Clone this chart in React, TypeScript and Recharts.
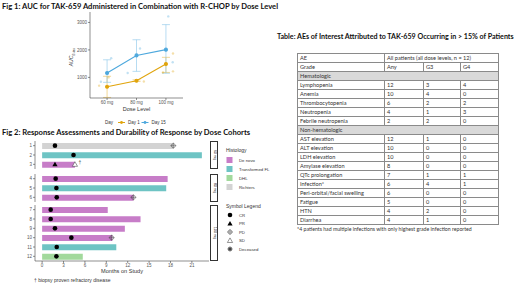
import {
  Bar,
  Cell,
  ComposedChart,
  ErrorBar,
  Line,
  Scatter,
  XAxis,
  YAxis,
} from "recharts";

// ---- Fig 1: AUC by dose level ----
const DOSE_LEVELS = ["60 mg", "80 mg", "100 mg"];
const DAY1_MEAN = [660, 880, 1490];
const DAY1_LOW = [270, 850, 1180];
const DAY1_HIGH = [1040, 910, 1730];
const DAY15_MEAN = [1160, 1800, 2010];
const DAY15_LOW = [820, 1220, 1150];
const DAY15_HIGH = [1640, 2370, 2920];
// individual patients (jittered around each dose)
const DAY1_PTS_X = [0.73, 1.05, 2.25, 2.9, 3.24, 3.24];
const DAY1_PTS_Y = [700, 1000, 850, 1180, 1870, 1220];
const DAY15_PTS_X = [1.14, 0.79, 1.7, 2.12, 3.08, 3.23];
const DAY15_PTS_Y = [1700, 840, 1160, 2050, 3220, 1550];

// ---- Fig 2: swimmer plot ----
const PATIENTS = ["1", "2", "3", "4", "5", "6", "7", "8", "9", "10", "11", "12"];
const COHORT = ["60 mg", "60 mg", "60 mg", "80 mg", "80 mg", "80 mg", "100 mg", "100 mg", "100 mg", "100 mg", "100 mg", "100 mg"];
const HISTOLOGY = ["Richters", "Transformed FL", "De novo", "De novo", "Transformed FL", "De novo", "De novo", "De novo", "De novo", "De novo", "Transformed FL", "DHL"];
const MONTHS = [18.4, 22.4, 4.6, 17.6, 17.4, 12.8, 9.2, 13.8, 11.6, 9.85, 10.4, 5.7];
const CR_AT = [1.8, 4.4, null, 1.9, 2.0, 2.05, 1.2, 1.2, 1.8, 4.1, 2.05, 2.0];
const PR_AT = [null, null, 1.8, null, null, null, null, null, null, null, null, null];
const SD_AT = [null, null, 4.6, null, null, null, null, null, null, null, null, null];
const PD_AT = [18.4, null, null, null, null, 12.8, null, null, null, 9.75, null, null];
const BIOPSY_AT = [null, null, 4.6, null, null, null, null, null, null, null, null, null];
const MONTH_TICKS = [0, 3, 6, 9, 12, 15, 18, 21];
const HIST_NAMES = ["De novo", "Transformed FL", "DHL", "Richters"];
const HIST_COLORS: Record<string, string> = {
  "De novo": "#C77DC8",
  "Transformed FL": "#6EC4C4",
  DHL: "#A2D99C",
  Richters: "#D3D3D3",
};

// ---- Table ----
const HEME_AES = ["Lymphopenia", "Anemia", "Thrombocytopenia", "Neutropenia", "Febrile neutropenia"];
const HEME_ANY = [12, 10, 6, 4, 2];
const HEME_G3 = [3, 4, 2, 1, 2];
const HEME_G4 = [4, 0, 2, 3, 0];
const NONHEME_AES = ["AST elevation", "ALT elevation", "LDH elevation", "Amylase elevation", "QTc prolongation", "Infection*", "Peri-orbital/facial swelling", "Fatigue", "HTN", "Diarrhea"];
const NONHEME_ANY = [12, 10, 10, 8, 7, 6, 6, 5, 4, 4];
const NONHEME_G3 = [1, 0, 0, 0, 1, 4, 0, 0, 2, 1];
const NONHEME_G4 = [0, 0, 0, 0, 1, 1, 0, 0, 0, 0];
const COL_W = [87, 39, 37, 38];

const DAY1_COLOR = "#E0A40C";
const DAY15_COLOR = "#4DA8DD";
const AXIS = "#444";
const TICK = { fontSize: 4.5, fill: "#555", fontFamily: "Liberation Sans" };

const fig1Data = DOSE_LEVELS.map((_, i) => ({
  x: i + 1,
  day1: DAY1_MEAN[i],
  day1Err: [DAY1_MEAN[i] - DAY1_LOW[i], DAY1_HIGH[i] - DAY1_MEAN[i]],
  day15: DAY15_MEAN[i],
  day15Err: [DAY15_MEAN[i] - DAY15_LOW[i], DAY15_HIGH[i] - DAY15_MEAN[i]],
}));
const day1Pts = DAY1_PTS_X.map((x, i) => ({ x, y: DAY1_PTS_Y[i] }));
const day15Pts = DAY15_PTS_X.map((x, i) => ({ x, y: DAY15_PTS_Y[i] }));

const rows = PATIENTS.map((id, i) => ({
  id,
  cohort: COHORT[i],
  hist: HISTOLOGY[i],
  months: MONTHS[i],
  cr: CR_AT[i],
  pr: PR_AT[i],
  sd: SD_AT[i],
  pd: PD_AT[i],
  biopsy: BIOPSY_AT[i],
}));

const faintDot = (color: string) => (p: any) => (
  <circle cx={p.cx} cy={p.cy} r={1.2} fill={color} opacity={0.35} />
);

function CrShape(p: any) {
  return <circle cx={p.cx} cy={p.cy} r={2.3} fill="#000" />;
}
function PrShape(p: any) {
  const { cx, cy } = p;
  return <path d={`M${cx},${cy - 2.6}L${cx + 2.6},${cy + 2}L${cx - 2.6},${cy + 2}Z`} fill="#000" />;
}
function SdShape(p: any) {
  const { cx, cy } = p;
  return (
    <path
      d={`M${cx},${cy - 2.6}L${cx + 2.6},${cy + 2}L${cx - 2.6},${cy + 2}Z`}
      fill="#fff"
      stroke="#333"
      strokeWidth={0.5}
    />
  );
}
function PdShape(p: any) {
  const { cx, cy } = p;
  return (
    <g stroke="#444" strokeWidth={0.5} fill="none">
      <circle cx={cx} cy={cy} r={2} />
      <line x1={cx - 3} y1={cy} x2={cx + 3} y2={cy} />
      <line x1={cx} y1={cy - 3} x2={cx} y2={cy + 3} />
    </g>
  );
}
function DaggerShape(p: any) {
  return (
    <text x={p.cx + 3.5} y={p.cy - 0.5} fontSize={5} fill="#333" fontFamily="Liberation Sans">
      †
    </text>
  );
}

const pick = (list: typeof rows, key: "cr" | "pr" | "sd" | "pd" | "biopsy") =>
  list.filter((r) => r[key] != null).map((r) => ({ id: r.id, t: r[key] }));

function CohortPanel({ cohort, top, height, showAxis }: { cohort: string; top: number; height: number; showAxis: boolean }) {
  const data = rows.filter((r) => r.cohort === cohort);
  return (
    <div style={{ position: "absolute", left: 17, top }}>
      <ComposedChart layout="vertical" width={192} height={height} data={data} margin={{ top: 0, right: 0, bottom: 0, left: 0 }}>
        <XAxis
          type="number"
          domain={[-1, 23.4]}
          ticks={MONTH_TICKS}
          interval={0}
          hide={!showAxis}
          height={9}
          tick={TICK}
          tickSize={2}
          tickMargin={1}
          stroke={AXIS}
          strokeWidth={0.6}
          allowDataOverflow
        />
        <YAxis
          type="category"
          dataKey="id"
          allowDuplicatedCategory={false}
          interval={0}
          width={18}
          tick={TICK}
          tickSize={2}
          tickMargin={1}
          stroke={AXIS}
          strokeWidth={0.6}
        />
        <Bar dataKey="months" barSize={6} isAnimationActive={false}>
          {data.map((r) => (
            <Cell key={r.id} fill={HIST_COLORS[r.hist]} />
          ))}
        </Bar>
        <Scatter data={pick(data, "cr")} dataKey="t" shape={CrShape} isAnimationActive={false} />
        <Scatter data={pick(data, "pr")} dataKey="t" shape={PrShape} isAnimationActive={false} />
        <Scatter data={pick(data, "sd")} dataKey="t" shape={SdShape} isAnimationActive={false} />
        <Scatter data={pick(data, "pd")} dataKey="t" shape={PdShape} isAnimationActive={false} />
        <Scatter data={pick(data, "biopsy")} dataKey="t" shape={DaggerShape} isAnimationActive={false} />
      </ComposedChart>
    </div>
  );
}

const title: React.CSSProperties = {
  position: "absolute",
  fontFamily: "Lato",
  fontWeight: 700,
  fontSize: 7.6,
  color: "#111",
  whiteSpace: "nowrap",
  lineHeight: 1,
};
const small: React.CSSProperties = {
  position: "absolute",
  fontFamily: "Liberation Sans",
  fontSize: 5,
  color: "#333",
  whiteSpace: "nowrap",
  lineHeight: 1,
};

function TableRow({ cells, spans, shaded }: { cells: (string | number)[]; spans?: number[]; shaded?: boolean }) {
  let col = 0;
  return (
    <div style={{ display: "flex", height: 9, background: shaded ? "#d9d9d9" : "transparent" }}>
      {cells.map((c, i) => {
        const span = spans ? spans[i] : 1;
        const w = COL_W.slice(col, col + span).reduce((a, b) => a + b, 0);
        col += span;
        return (
          <div
            key={i}
            style={{
              width: w,
              height: 9,
              boxSizing: "border-box",
              borderRight: "0.7px solid #8a8a8a",
              borderBottom: "0.7px solid #8a8a8a",
              paddingLeft: 2,
              lineHeight: "8.6px",
              whiteSpace: "nowrap",
              overflow: "hidden",
            }}
          >
            {c}
          </div>
        );
      })}
    </div>
  );
}

function AeTable() {
  return (
    <div
      style={{
        position: "absolute",
        left: 297,
        top: 53,
        width: 201,
        borderTop: "0.7px solid #8a8a8a",
        borderLeft: "0.7px solid #8a8a8a",
        fontFamily: "Lato",
        fontSize: 5.6,
        color: "#333",
      }}
    >
      <TableRow cells={["AE", "All patients (all dose levels, n = 12)"]} spans={[1, 3]} />
      <TableRow cells={["Grade", "Any", "G3", "G4"]} />
      <TableRow cells={["Hematologic"]} spans={[4]} shaded />
      {HEME_AES.map((n, i) => (
        <TableRow key={n} cells={[n, HEME_ANY[i], HEME_G3[i], HEME_G4[i]]} />
      ))}
      <TableRow cells={["Non-hematologic"]} spans={[4]} shaded />
      {NONHEME_AES.map((n, i) => (
        <TableRow key={n} cells={[n, NONHEME_ANY[i], NONHEME_G3[i], NONHEME_G4[i]]} />
      ))}
    </div>
  );
}

export default function App() {
  return (
    <div style={{ position: "absolute", left: 0, top: 0, width: 520, height: 288, background: "#fff", overflow: "hidden" }}>
      {/* Fig 1 */}
      <div style={{ ...title, left: 2, top: 3 }}>
        Fig 1: AUC for TAK-659 Administered in Combination with R-CHOP by Dose Level
      </div>
      <div style={{ position: "absolute", left: 58, top: 8 }}>
        <ComposedChart width={132} height={110} data={fig1Data} margin={{ top: 4, right: 7, bottom: 6, left: 0 }}>
          <XAxis
            type="number"
            dataKey="x"
            domain={[0.42, 3.58]}
            ticks={[1, 2, 3]}
            interval={0}
            tickFormatter={(v) => DOSE_LEVELS[v - 1]}
            height={14}
            tick={TICK}
            tickSize={2}
            tickMargin={1}
            stroke={AXIS}
            strokeWidth={0.6}
          />
          <YAxis
            type="number"
            domain={[250, 3380]}
            ticks={[1000, 2000, 3000]}
            interval={0}
            width={32}
            tick={TICK}
            tickSize={2}
            tickMargin={1}
            stroke={AXIS}
            strokeWidth={0.6}
          />
          <Scatter data={day1Pts} dataKey="y" shape={faintDot(DAY1_COLOR)} isAnimationActive={false} />
          <Scatter data={day15Pts} dataKey="y" shape={faintDot(DAY15_COLOR)} isAnimationActive={false} />
          <Line dataKey="day1" stroke={DAY1_COLOR} strokeWidth={1.1} dot={{ r: 1.5, fill: DAY1_COLOR, stroke: DAY1_COLOR }} isAnimationActive={false}>
            <ErrorBar dataKey="day1Err" direction="y" width={4} stroke="#EDBE4E" strokeWidth={0.6} />
          </Line>
          <Line dataKey="day15" stroke={DAY15_COLOR} strokeWidth={1.1} dot={{ r: 1.5, fill: DAY15_COLOR, stroke: DAY15_COLOR }} isAnimationActive={false}>
            <ErrorBar dataKey="day15Err" direction="y" width={4} stroke="#86C4EA" strokeWidth={0.6} />
          </Line>
        </ComposedChart>
      </div>
      <div style={{ ...small, left: 73, top: 57, transform: "translate(-50%,-50%) rotate(-90deg)", fontStyle: "italic" }}>
        AUC<sub style={{ fontSize: 3.5 }}>0-tau</sub>
      </div>
      <div style={{ ...small, left: 136.5, top: 110, transform: "translate(-50%,-50%)", fontSize: 5.5 }}>Dose Level</div>
      <svg style={{ position: "absolute", left: 100, top: 118 }} width={80} height={9}>
        <text x={5} y={6.3} fontSize={4.5} fill="#333" fontFamily="Liberation Sans">Day</text>
        <line x1={18} y1={4.5} x2={25} y2={4.5} stroke={DAY1_COLOR} strokeWidth={1} />
        <circle cx={21.5} cy={4.5} r={1.4} fill={DAY1_COLOR} />
        <text x={28} y={6.3} fontSize={4.5} fill="#333" fontFamily="Liberation Sans">Day 1</text>
        <line x1={41.5} y1={4.5} x2={48.5} y2={4.5} stroke={DAY15_COLOR} strokeWidth={1} />
        <circle cx={45} cy={4.5} r={1.4} fill={DAY15_COLOR} />
        <text x={51.5} y={6.3} fontSize={4.5} fill="#333" fontFamily="Liberation Sans">Day 15</text>
      </svg>

      {/* Fig 2 */}
      <div style={{ ...title, left: 2, top: 129 }}>
        Fig 2: Response Assessments and Durability of Response by Dose Cohorts
      </div>
      <CohortPanel cohort="60 mg" top={141} height={28} showAxis={false} />
      <CohortPanel cohort="80 mg" top={174} height={28} showAxis={false} />
      <CohortPanel cohort="100 mg" top={205} height={65} showAxis />
      {[
        { label: "60 mg", top: 141, h: 28 },
        { label: "80 mg", top: 174, h: 28 },
        { label: "100 mg", top: 205, h: 56 },
      ].map((s) => (
        <div
          key={s.label}
          style={{
            position: "absolute",
            left: 210,
            top: s.top,
            width: 7.5,
            height: s.h,
            boxSizing: "border-box",
            border: "0.8px solid #333",
          }}
        >
          <div style={{ ...small, fontSize: 3.8, left: "50%", top: "50%", transform: "translate(-50%,-50%) rotate(90deg)" }}>
            {s.label}
          </div>
        </div>
      ))}
      <div style={{ ...small, left: 122, top: 272, transform: "translate(-50%,-50%)", fontSize: 5.6 }}>Months on Study</div>
      <div style={{ ...small, left: 34, top: 278, fontSize: 5 }}>† biopsy proven refractory disease</div>
      <svg style={{ position: "absolute", left: 222, top: 144 }} width={60} height={112}>
        <text x={4} y={8} fontSize={5} fill="#333" fontFamily="Liberation Sans">Histology</text>
        {HIST_NAMES.map((n, i) => (
          <g key={n}>
            <rect x={4.5} y={13 + i * 9} width={6} height={6} fill={HIST_COLORS[n]} />
            <text x={17} y={18 + i * 9} fontSize={4.3} fill="#333" fontFamily="Liberation Sans">{n}</text>
          </g>
        ))}
        <text x={4} y={64} fontSize={5} fill="#333" fontFamily="Liberation Sans">Symbol Legend</text>
        <CrShape cx={8} cy={71} />
        <PrShape cx={8} cy={79.5} />
        <PdShape cx={8} cy={88} />
        <SdShape cx={8} cy={96.5} />
        <g stroke="#444" strokeWidth={0.5}>
          <circle cx={8} cy={105} r={1.6} fill="#444" />
          <line x1={5} y1={105} x2={11} y2={105} />
          <line x1={8} y1={102} x2={8} y2={108} />
          <line x1={6} y1={103} x2={10} y2={107} />
          <line x1={10} y1={103} x2={6} y2={107} />
        </g>
        {["CR", "PR", "PD", "SD", "Deceased"].map((n, i) => (
          <text key={n} x={17} y={72.6 + i * 8.5} fontSize={4.3} fill="#333" fontFamily="Liberation Sans">{n}</text>
        ))}
      </svg>

      {/* Table */}
      <div style={{ ...title, left: 277, top: 33, fontSize: 7.1 }}>
        Table: AEs of Interest Attributed to TAK-659 Occurring in &gt; 15% of Patients
      </div>
      <AeTable />
      <div style={{ ...small, left: 297, top: 226.5, fontFamily: "Lato", fontSize: 5.2 }}>
        *4 patients had multiple infections with only highest grade infection reported
      </div>
    </div>
  );
}
